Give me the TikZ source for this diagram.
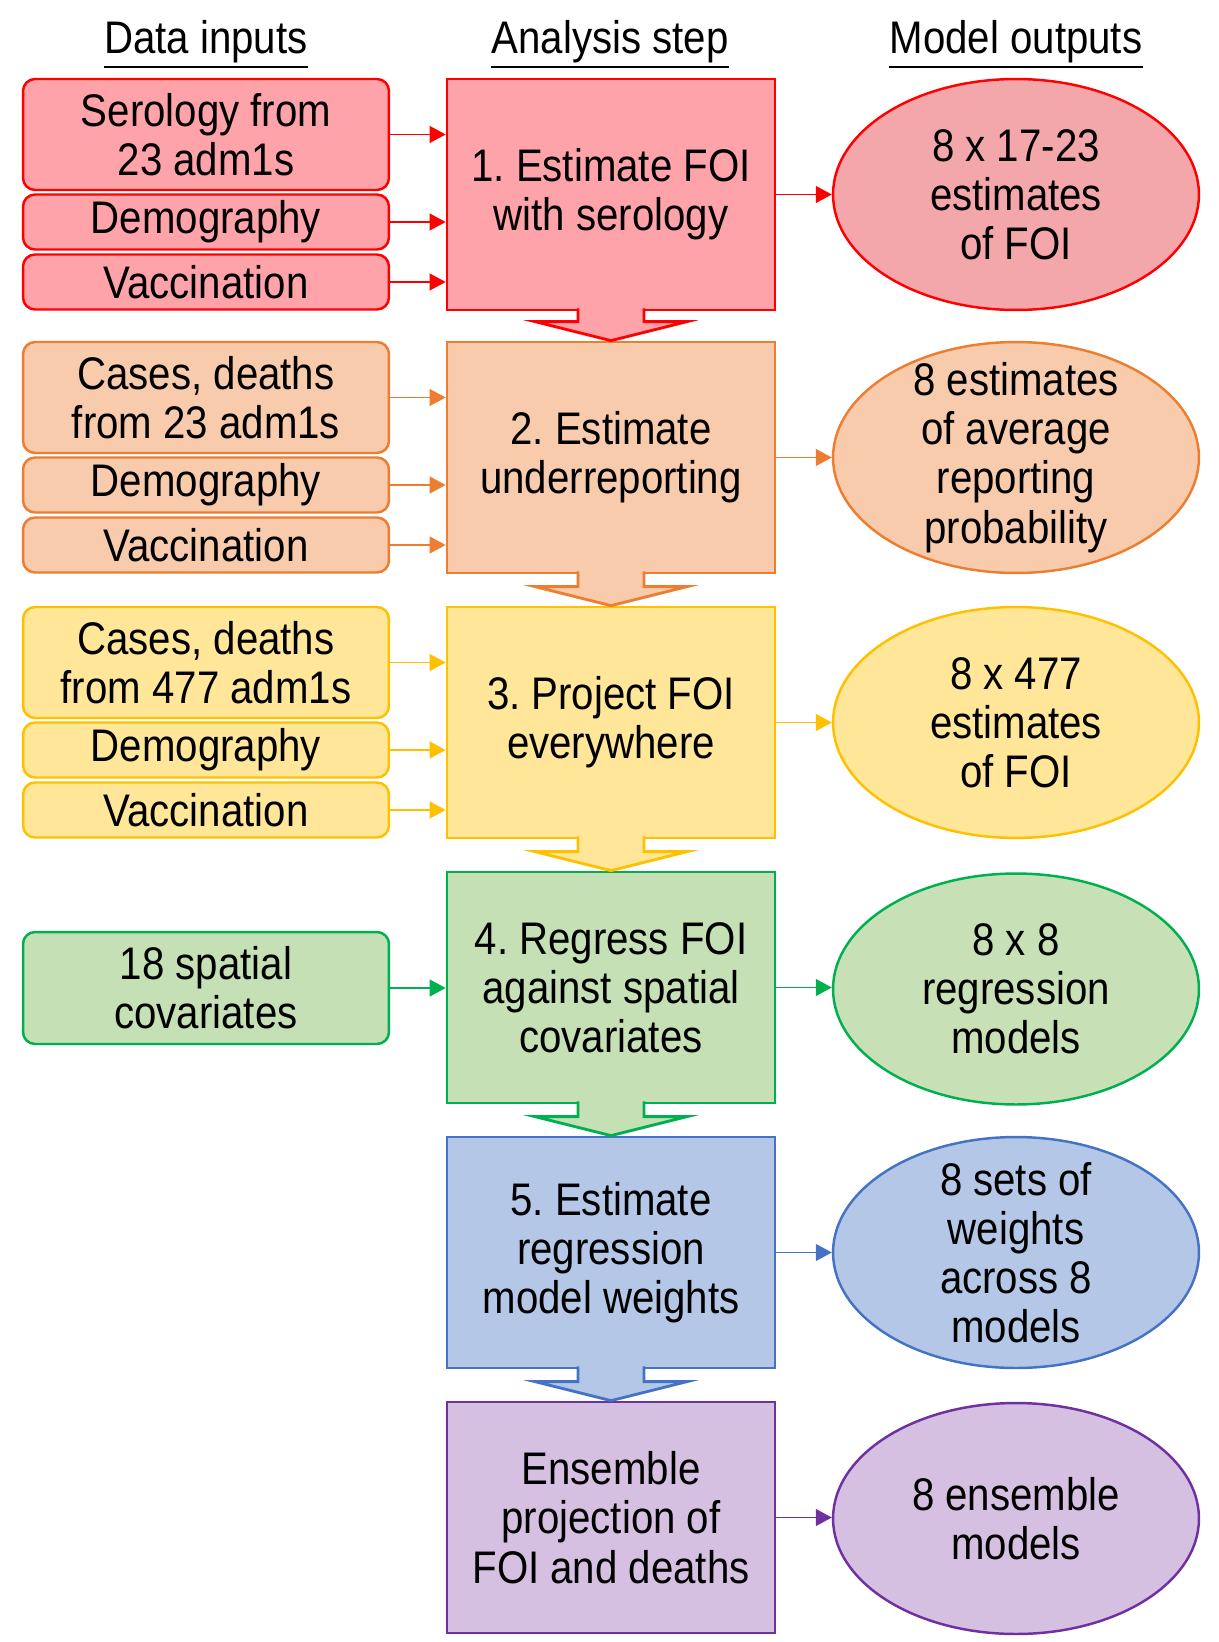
\documentclass[tikz,border=0pt]{standalone}
\usepackage{fontspec}
\setmainfont{Liberation Sans}[FakeStretch=0.88]
\usetikzlibrary{shapes.geometric, arrows.meta, calc}
\frenchspacing

\definecolor{redfill}{HTML}{FFA3AA}
\definecolor{redline}{HTML}{FF0000}
\definecolor{redout}{HTML}{F4A7AB}
\definecolor{orangefill}{HTML}{F8CBAD}
\definecolor{orangeline}{HTML}{ED7D31}
\definecolor{orangeout}{HTML}{F8CBAD}
\definecolor{yellowfill}{HTML}{FFE699}
\definecolor{yellowline}{HTML}{FFC000}
\definecolor{yellowout}{HTML}{FFE699}
\definecolor{greenfill}{HTML}{C5E0B4}
\definecolor{greenline}{HTML}{00B050}
\definecolor{greenout}{HTML}{C7E0B5}
\definecolor{bluefill}{HTML}{B4C7E7}
\definecolor{blueline}{HTML}{4472C4}
\definecolor{blueout}{HTML}{B4C7E7}
\definecolor{purplefill}{HTML}{D5C0E2}
\definecolor{purpleline}{HTML}{7030A0}
\definecolor{purpleout}{HTML}{D5C0E2}

% big block arrow from one step to the next
\newcommand{\flowdown}[3]{%
  \filldraw[draw=#3line, fill=#3fill, line width=1.6pt, line join=miter]
    ($(#1.south)+(33,-3)$) -- ($(#2.north)+(33,-19)$) -- ($(#2.north)+(76,-19)$)
    -- (#2.north) -- ($(#2.north)+(-76,-19)$) -- ($(#2.north)+(-33,-19)$)
    -- ($(#1.south)+(-33,-3)$);
}

\begin{document}
\begin{tikzpicture}[x=0.02cm, y=-0.02cm,
    every node/.style={font=\fontsize{26}{28}\selectfont, align=center, inner sep=0pt},
    inbox/.style={draw=#1line, fill=#1fill, rounded corners=0.24cm, line width=1.4pt, minimum width=7.32cm},
    stepbox/.style={draw=#1line, fill=#1fill, line width=1.6pt, minimum width=6.56cm, minimum height=4.62cm},
    outbox/.style={ellipse, draw=#1line, fill=#1out, line width=1.4pt, minimum width=7.32cm, minimum height=4.62cm},
    feed/.style={draw=#1line, line width=0.6pt, -{Triangle[length=0.32cm, width=0.34cm]}}]

    \useasboundingbox (0,0) rectangle (1218,1642);

    % headers
    \node (hdin) at (206,42) {Data inputs};
    \node (hdstep) at (610,42) {Analysis step};
    \node (hdout) at (1016,42) {Model outputs};
    \foreach \h in {hdin, hdstep, hdout}
      \draw[line width=1.2pt] ([yshift=-2pt]\h.south west) -- ([yshift=-2pt]\h.south east);

    % 1
    \node [inbox=red, minimum height=2.22cm] (in1a) at (206,134.5) {Serology from\\23 adm1s};
    \node [inbox=red, minimum height=1.1cm] (in1b) at (206,222) {Demography};
    \node [inbox=red, minimum height=1.1cm] (in1c) at (206,282) {Vaccination};
    \node [stepbox=red] (step1) at (611,194.5) {1. Estimate FOI\\with serology};
    \node [outbox=red, label={[align=center]center:{8 x 17-23\\estimates\\of FOI}}] (out1) at (1016,194.5) {};

    % 2
    \node [inbox=orange, minimum height=2.22cm] (in2a) at (206,397.5) {Cases, deaths\\from 23 adm1s};
    \node [inbox=orange, minimum height=1.1cm] (in2b) at (206,485) {Demography};
    \node [inbox=orange, minimum height=1.1cm] (in2c) at (206,545) {Vaccination};
    \node [stepbox=orange] (step2) at (611,457.5) {2. Estimate\\underreporting};
    \node [outbox=orange, label={[align=center]center:{8 estimates\\of average\\reporting\\probability}}] (out2) at (1016,457.5) {};

    % 3
    \node [inbox=yellow, minimum height=2.22cm] (in3a) at (206,662.5) {Cases, deaths\\from 477 adm1s};
    \node [inbox=yellow, minimum height=1.1cm] (in3b) at (206,750) {Demography};
    \node [inbox=yellow, minimum height=1.1cm] (in3c) at (206,810) {Vaccination};
    \node [stepbox=yellow] (step3) at (611,722.5) {3. Project FOI\\everywhere};
    \node [outbox=yellow, label={[align=center]center:{8 x 477\\estimates\\of FOI}}] (out3) at (1016,722.5) {};

    % 4
    \node [inbox=green, minimum height=2.24cm] (in4) at (206,988) {18 spatial\\covariates};
    \node [stepbox=green] (step4) at (611,987.5) {4. Regress FOI\\against spatial\\covariates};
    \node [outbox=green, label={[align=center]center:{8 x 8\\regression\\models}}] (out4) at (1016,989) {};

    % 5
    \node [stepbox=blue] (step5) at (611,1252.5) {5. Estimate\\regression\\model weights};
    \node [outbox=blue, label={[align=center]center:{8 sets of\\weights\\across 8\\models}}] (out5) at (1016,1252.5) {};

    % 6
    \node [stepbox=purple] (step6) at (611,1517.5) {Ensemble\\projection of\\FOI and deaths};
    \node [outbox=purple, label={[align=center]center:{8 ensemble\\models}}] (out6) at (1016,1518.5) {};

    % inputs into steps
    \draw[feed=red] (in1a.east) -- (in1a.east -| step1.west);
    \draw[feed=red] (in1b.east) -- (in1b.east -| step1.west);
    \draw[feed=red] (in1c.east) -- (in1c.east -| step1.west);
    \draw[feed=orange] (in2a.east) -- (in2a.east -| step2.west);
    \draw[feed=orange] (in2b.east) -- (in2b.east -| step2.west);
    \draw[feed=orange] (in2c.east) -- (in2c.east -| step2.west);
    \draw[feed=yellow] (in3a.east) -- (in3a.east -| step3.west);
    \draw[feed=yellow] (in3b.east) -- (in3b.east -| step3.west);
    \draw[feed=yellow] (in3c.east) -- (in3c.east -| step3.west);
    \draw[feed=green] (in4.east) -- (in4.east -| step4.west);

    % steps into outputs
    \draw[feed=red] (step1.east) -- (step1.east -| out1.west);
    \draw[feed=orange] (step2.east) -- (step2.east -| out2.west);
    \draw[feed=yellow] (step3.east) -- (step3.east -| out3.west);
    \draw[feed=green] (step4.east) -- (step4.east -| out4.west);
    \draw[feed=blue] (step5.east) -- (step5.east -| out5.west);
    \draw[feed=purple] (step6.east) -- (step6.east -| out6.west);

    % step to step
    \flowdown{step1}{step2}{red}
    \flowdown{step2}{step3}{orange}
    \flowdown{step3}{step4}{yellow}
    \flowdown{step4}{step5}{green}
    \flowdown{step5}{step6}{blue}
\end{tikzpicture}
\end{document}
